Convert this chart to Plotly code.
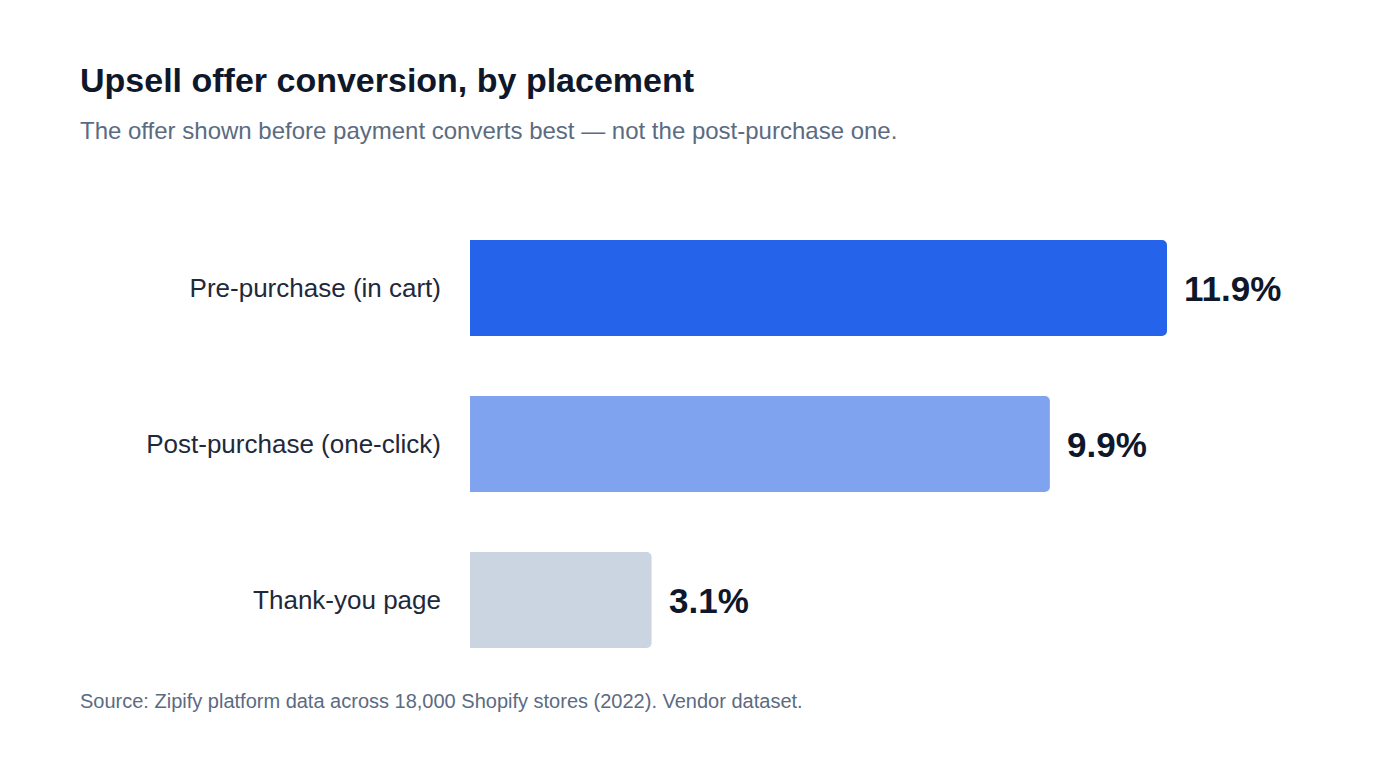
import plotly.graph_objects as go

categories = ["Pre-purchase (in cart)", "Post-purchase (one-click)", "Thank-you page"]
values = [11.9, 9.9, 3.1]
value_labels = ["11.9%", "9.9%", "3.1%"]
bar_colors = ["#2563eb", "#7fa3ee", "#cbd5e1"]

W, H = 1400, 760
L, R, T, B = 470, 30, 210, 82
pw, ph = W - L - R, H - T - B
FONT = "Liberation Sans, Arial, sans-serif"

def px_x(x):
    return (x - L) / pw

def px_y(y):
    return (H - B - y) / ph

fig = go.Figure(go.Bar(
    x=values, y=categories, orientation="h",
    marker=dict(color=bar_colors, line=dict(width=0)),
    width=0.615, hoverinfo="skip",
))

for c, v, t in zip(categories, values, value_labels):
    fig.add_annotation(x=v, y=c, text=t, showarrow=False, xanchor="left",
                       xshift=15, font=dict(family=FONT, size=35, color="#0f172a", weight="bold"))

fig.add_annotation(xref="paper", yref="paper", x=px_x(78), y=px_y(131),
                   xanchor="left", yanchor="middle", showarrow=False,
                   text="The offer shown before payment converts best — not the post-purchase one.",
                   font=dict(family=FONT, size=24, color="#5b6b82"))
fig.add_annotation(xref="paper", yref="paper", x=px_x(78), y=px_y(701),
                   xanchor="left", yanchor="middle", showarrow=False,
                   text="Source: Zipify platform data across 18,000 Shopify stores (2022). Vendor dataset.",
                   font=dict(family=FONT, size=20, color="#5b6b82"))

fig.update_layout(
    width=W, height=H,
    margin=dict(l=L, r=R, t=T, b=B),
    paper_bgcolor="white", plot_bgcolor="white",
    barcornerradius=5,
    showlegend=False,
    title=dict(text="<b>Upsell offer conversion, by placement</b>",
               xref="container", yref="container", x=80 / W, y=1 - 80 / H,
               xanchor="left", yanchor="middle",
               font=dict(family=FONT, size=34, color="#0f172a")),
    xaxis=dict(range=[0, pw / (697 / 11.9)], visible=False, fixedrange=True),
    yaxis=dict(autorange="reversed", showgrid=False, zeroline=False, showline=False,
               ticks="", ticklabelstandoff=28,
               tickfont=dict(family=FONT, size=26, color="#1e293b")),
)

fig.write_html("out.html")
